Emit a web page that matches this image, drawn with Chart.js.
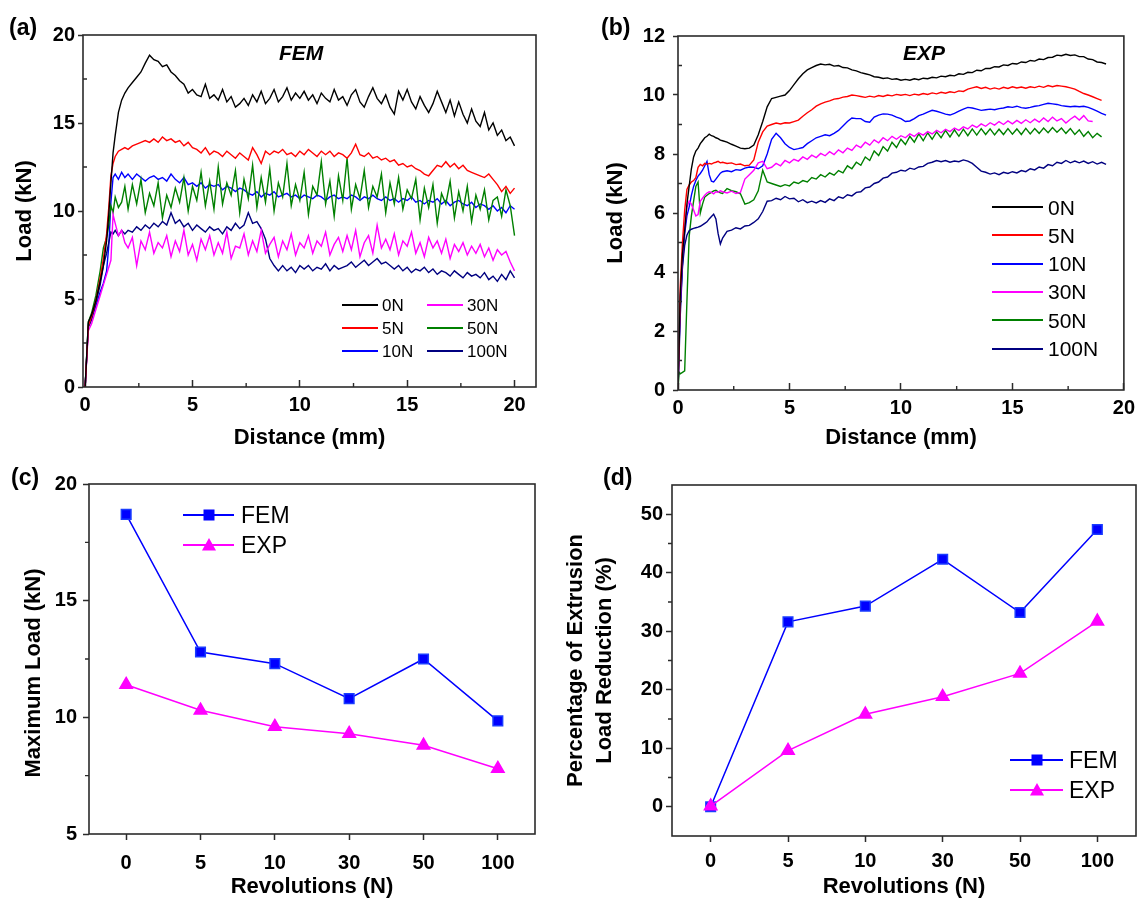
<!DOCTYPE html>
<html>
<head>
<meta charset="utf-8">
<script src="https://cdn.jsdelivr.net/npm/chart.js@4.4.1/dist/chart.umd.min.js"></script>
<style>
  body { margin: 0; background: #fff; width: 1148px; height: 900px; position: relative; overflow: hidden;
         font-family: 'Liberation Sans', Arial, Helvetica, sans-serif; }
  .box { position: absolute; }
  .txt { position: absolute; white-space: nowrap; color: #000; display: flex; align-items: center; }
</style>
</head>
<body>
<div class="box" style="left:0;top:440px"><canvas id="chartC" width="560" height="460"></canvas></div>
<div class="box" style="left:560px;top:440px"><canvas id="chartD" width="588" height="460"></canvas></div>
<div class="box" style="left:0;top:0"><canvas id="chartA" width="560" height="460"></canvas></div>
<div class="box" style="left:580px;top:0"><canvas id="chartB" width="568" height="460"></canvas></div>
<div id="overlay"></div>
<script>
// ---- DATA ----
// (a) FEM load vs distance, shared distance grid (mm)
const femDist = [0, 0.15, 0.3, 0.5, 0.7, 0.85, 1.0, 1.1, 1.2, 1.3, 1.4, 1.55, 1.7, 1.85, 2.0,
  2.2, 2.4, 2.6, 2.8, 3.0, 3.2, 3.4, 3.6, 3.8, 4.0,
  4.2, 4.4, 4.6, 4.8, 5.0, 5.2, 5.4, 5.6, 5.8, 6.0,
  6.2, 6.4, 6.6, 6.8, 7.0, 7.2, 7.4, 7.6, 7.8, 8.0,
  8.2, 8.4, 8.6, 8.8, 9.0, 9.2, 9.4, 9.6, 9.8, 10.0,
  10.2, 10.4, 10.6, 10.8, 11.0, 11.2, 11.4, 11.6, 11.8, 12.0,
  12.2, 12.4, 12.6, 12.8, 13.0, 13.2, 13.4, 13.6, 13.8, 14.0,
  14.2, 14.4, 14.6, 14.8, 15.0, 15.2, 15.4, 15.6, 15.8, 16.0,
  16.2, 16.4, 16.6, 16.8, 17.0, 17.2, 17.4, 17.6, 17.8, 18.0,
  18.2, 18.4, 18.6, 18.8, 19.0, 19.2, 19.4, 19.6, 19.8, 20.0];
const femLoad0N = [0, 3.7, 4.1, 4.9, 6.0, 6.9, 8.3, 9.8, 11.6, 13.3, 14.3, 15.6, 16.3, 16.7, 17.0,
  17.3, 17.6, 17.9, 18.4, 18.85, 18.6, 18.5, 18.2, 18.3, 17.9,
  17.7, 17.4, 17.2, 16.7, 16.9, 16.6, 16.5, 17.2, 16.4, 16.6,
  16.3, 16.9, 16.2, 16.5, 15.9, 16.1, 16.4, 16.0, 16.6, 16.2,
  16.8, 16.1, 16.4, 16.9, 16.2, 16.5, 17.0, 16.3, 16.7, 16.4,
  16.8, 16.3, 16.6, 16.1, 16.7, 16.4, 16.2, 16.9, 16.3, 16.5,
  16.0, 16.6, 16.9, 16.2, 15.9, 16.5, 17.0, 16.4, 16.1, 16.6,
  15.9, 15.5, 16.8, 16.3, 16.9, 16.2, 15.8, 16.5, 16.0, 15.6,
  16.1, 16.8, 16.2, 15.6, 16.3, 15.4, 16.2, 15.5, 15.0, 15.8,
  15.1, 14.8, 15.6, 14.6, 15.0, 14.3, 14.6, 14.0, 14.2, 13.7];
const femLoad5N = [0, 3.5, 4.0, 4.9, 6.2, 7.3, 8.7, 10.2, 12.0, 12.7, 13.1, 13.4, 13.5, 13.6, 13.5,
  13.7, 13.8, 13.9, 14.0, 13.9, 14.1, 13.9, 14.2, 14.0, 14.1,
  13.9, 14.0, 13.7, 13.9, 13.6, 13.5, 13.3, 13.6, 13.2, 13.4,
  13.3, 13.1, 13.4, 13.2, 13.0, 13.3, 13.1, 12.9, 13.6, 13.2,
  12.7, 13.4, 13.2, 13.4, 13.3, 13.5, 13.2, 13.3, 13.1, 13.4,
  13.2, 13.5, 13.3, 13.1, 13.4, 13.2, 13.4, 13.1, 13.3, 13.2,
  13.0, 13.3, 13.8, 13.2, 13.1, 13.3, 13.0, 13.1, 12.9, 13.0,
  12.8, 12.9, 12.6, 12.7, 12.5, 12.6, 12.4, 12.3, 12.1, 12.0,
  12.3, 12.6, 12.5, 12.8, 12.5, 12.7, 12.4, 12.6, 12.3, 12.2,
  12.1, 12.0, 11.9, 12.1, 11.8, 11.5, 11.1, 11.4, 11.0, 11.3];
const femLoad10N = [0, 3.6, 3.9, 4.6, 5.4, 5.9, 6.6, 8.0, 10.5, 11.9, 12.1, 11.8, 12.2, 11.9, 12.1,
  11.8, 12.1, 11.9, 11.7, 11.9, 12.0, 11.8, 11.9, 11.7, 12.1,
  11.8, 11.6, 11.9, 11.5, 11.6, 11.4, 11.6, 11.3, 11.5, 11.4,
  11.5, 11.2, 11.4, 11.3, 11.1, 11.3, 11.2, 11.0, 10.9, 11.1,
  10.8, 11.0, 10.9, 11.1, 10.8, 10.9, 11.0, 10.8, 10.9, 10.7,
  10.9, 10.8, 10.7, 10.9, 10.8, 10.6, 10.8, 10.9, 10.7, 10.8,
  10.7, 10.9, 10.8, 10.6, 10.8, 10.7, 10.9, 10.7, 10.6, 10.8,
  10.6, 10.7, 10.5, 10.7, 10.6, 10.8, 10.5, 10.6, 10.4, 10.6,
  10.5, 10.7, 10.4, 10.6, 10.3, 10.5, 10.6, 10.4, 10.3, 10.5,
  10.2, 10.4, 10.3, 10.1, 10.3, 10.0, 10.2, 9.9, 10.3, 10.1];
const femLoad30N = [0, 3.2, 3.6, 4.4, 5.2, 5.8, 6.4, 6.8, 7.2, 9.8, 9.3, 8.6, 8.9, 8.2, 7.9,
  8.5, 6.9, 8.3, 7.8, 8.8, 7.6, 8.2, 7.9, 8.6, 7.4,
  8.3, 7.7, 8.9, 7.5, 8.1, 7.2, 8.4, 7.8, 8.6, 7.5,
  8.2, 7.6, 8.8, 7.3, 8.0, 7.9, 8.7, 7.5, 8.3, 7.7,
  8.9, 7.6, 8.1, 8.5, 7.4, 8.3, 7.8, 8.7, 7.5, 8.2,
  7.9, 8.6, 7.6, 8.3, 8.0, 8.8, 7.5, 8.1, 8.5, 7.7,
  8.6, 7.8, 8.9, 7.4, 8.2, 8.6, 7.6, 9.2, 7.9, 8.4,
  7.8, 8.7, 7.5, 8.3, 8.0, 8.8, 7.6, 8.2, 7.4, 8.5,
  7.9, 8.3, 7.6, 8.4, 7.3, 8.1, 7.7, 8.2, 7.5, 8.0,
  7.6, 8.1, 7.4, 7.9, 7.2, 7.8, 7.5, 7.7, 7.1, 6.6];
const femLoad50N = [0, 3.7, 4.2, 5.2, 6.6, 7.9, 8.5, 9.2, 10.3, 9.9, 10.8, 10.2, 10.5, 11.4, 10.1,
  11.5, 10.4, 11.8, 9.9, 11.0, 10.3, 11.6, 9.6, 10.9, 10.2,
  11.3, 10.5, 11.9, 10.0, 11.4, 10.6, 12.2, 10.3, 11.7, 10.1,
  12.5, 10.4, 11.6, 10.9, 12.3, 9.9, 11.8, 10.7, 12.6, 10.2,
  11.9, 10.5, 12.4, 10.0, 11.6, 10.8, 12.7, 10.3, 11.5, 10.6,
  12.2, 9.8, 11.4, 10.9, 12.8, 10.4, 11.7, 9.7, 12.0, 10.6,
  13.0, 10.1, 11.5, 10.7, 12.3, 10.2, 11.4, 10.8, 12.1, 9.9,
  11.6, 10.4, 11.9, 10.1, 11.2, 10.7, 11.8, 9.5, 11.3, 10.2,
  11.5, 9.3, 11.0, 10.4, 11.7, 9.6, 11.1, 10.0, 11.4, 9.4,
  10.9, 10.1, 11.2, 9.5, 10.6, 10.8, 9.7, 11.2, 10.3, 8.6];
const femLoad100N = [0, 3.4, 3.8, 4.8, 5.8, 6.9, 7.6, 8.2, 8.8, 8.7, 8.9, 8.6, 8.9, 8.7, 8.9,
  8.8, 9.1, 8.9, 9.2, 9.0, 9.3, 9.1, 9.4, 9.2, 9.9,
  9.3, 9.5, 9.1, 9.3, 8.9, 9.2, 9.0, 8.8, 9.1, 8.9,
  9.0, 8.7, 9.1, 8.9, 9.3, 9.0, 9.2, 9.9, 9.3, 9.4,
  9.0, 8.4, 7.3, 6.9, 6.6, 6.9, 6.6, 6.8, 6.5, 6.9,
  6.7, 6.9, 6.6, 6.8, 6.7, 7.0, 6.6, 6.9, 6.7, 6.8,
  6.9, 7.1, 6.8, 7.0, 7.2, 6.9, 7.1, 7.3, 7.0, 7.1,
  6.9, 6.7, 6.9, 6.6, 6.8, 6.5, 6.7, 6.6, 6.8, 6.5,
  6.7, 6.4, 6.6, 6.5, 6.3, 6.6, 6.4, 6.2, 6.5, 6.3,
  6.4, 6.2, 6.5, 6.1, 6.3, 6.0, 6.4, 6.1, 6.6, 6.2];

// (b) EXP load vs distance, shared distance grid (mm)
const expDist = [0, 0.05, 0.1, 0.2, 0.3, 0.4, 0.5, 0.6, 0.7, 0.8, 0.9, 1.0, 1.1, 1.2, 1.3, 1.4, 1.5, 1.6, 1.7, 1.8, 1.9, 2.0,
  2.2, 2.4, 2.6, 2.8, 3.0, 3.2, 3.4, 3.6, 3.8, 4.0,
  4.2, 4.4, 4.6, 4.8, 5.0, 5.2, 5.4, 5.6, 5.8, 6.0,
  6.2, 6.4, 6.6, 6.8, 7.0, 7.2, 7.4, 7.6, 7.8, 8.0,
  8.2, 8.4, 8.6, 8.8, 9.0, 9.2, 9.4, 9.6, 9.8, 10.0,
  10.2, 10.4, 10.6, 10.8, 11.0, 11.2, 11.4, 11.6, 11.8, 12.0,
  12.2, 12.4, 12.6, 12.8, 13.0, 13.2, 13.4, 13.6, 13.8, 14.0,
  14.2, 14.4, 14.6, 14.8, 15.0, 15.2, 15.4, 15.6, 15.8, 16.0,
  16.2, 16.4, 16.6, 16.8, 17.0, 17.2, 17.4, 17.6, 17.8, 18.0,
  18.2, 18.4, 18.6, 18.8, 19.0, 19.2];
const expLoad0N = [0, 1.5, 3.2, 4.6, 5.4, 6.3, 6.9, 7.5, 7.9, 8.1, 8.2, 8.35, 8.45, 8.55, 8.6, 8.67, 8.62, 8.6, 8.55, 8.52, 8.47, 8.45,
  8.4, 8.33, 8.27, 8.2, 8.18, 8.2, 8.3, 8.65, 9.1, 9.6,
  9.88, 9.92, 9.96, 10.0, 10.15, 10.35, 10.55, 10.72, 10.85, 10.93,
  11.0, 11.05, 11.02, 11.04, 10.98, 11.0, 10.93, 10.92, 10.85, 10.82,
  10.76, 10.72, 10.68, 10.62, 10.6, 10.56, 10.58, 10.53, 10.55, 10.5,
  10.53, 10.5, 10.55, 10.52, 10.57, 10.55, 10.6, 10.58, 10.64, 10.62,
  10.67, 10.65, 10.72, 10.7, 10.77, 10.76, 10.84, 10.82, 10.9, 10.9,
  10.96, 10.95, 11.02, 11.0, 11.07, 11.05, 11.12, 11.1, 11.17, 11.15,
  11.22, 11.2, 11.27, 11.28, 11.35, 11.33, 11.38, 11.34, 11.36, 11.3,
  11.3, 11.22, 11.2, 11.12, 11.1, 11.05];
const expLoad5N = [0, 1.8, 3.5, 5.0, 6.1, 6.8, 6.95, 7.05, 7.1, 7.2, 7.55, 7.65, 7.6, 7.68, 7.65, 7.68, 7.66, 7.7, 7.72, 7.75, 7.7, 7.72,
  7.68, 7.7, 7.64, 7.66, 7.6, 7.62, 7.8, 8.4, 8.75, 8.95,
  9.0, 9.05, 9.02, 9.06, 9.05, 9.1, 9.15, 9.28, 9.4, 9.5,
  9.62, 9.7, 9.76, 9.8, 9.86, 9.88, 9.93, 9.95, 10.0, 9.98,
  9.95, 9.92, 9.96, 9.93, 9.98, 9.95, 10.0, 9.97, 10.02, 9.99,
  10.02, 9.98, 10.03, 10.0, 10.05, 10.02, 10.07, 10.04, 10.09, 10.06,
  10.11, 10.08, 10.14, 10.12, 10.2, 10.24, 10.28, 10.22, 10.26, 10.2,
  10.24, 10.2, 10.26, 10.22, 10.28, 10.24, 10.27, 10.23, 10.28, 10.25,
  10.3, 10.26, 10.32, 10.28, 10.32, 10.3, 10.28, 10.24, 10.2, 10.12,
  10.05, 10.0, 9.94, 9.88, 9.82, null];
const expLoad10N = [0, 1.5, 2.8, 4.2, 5.3, 5.9, 6.2, 6.6, 6.9, 7.1, 7.25, 7.34, 7.45, 7.6, 7.75, 7.3, 7.08, 7.05, 7.15, 7.25, 7.35, 7.4,
  7.43, 7.4, 7.47, 7.45, 7.52, 7.56, 7.55, 7.5, 7.6, 8.0,
  8.5, 8.7, 8.55, 8.35, 8.22, 8.15, 8.18, 8.22, 8.35, 8.45,
  8.55, 8.6, 8.65, 8.62, 8.7, 8.8, 8.95, 9.1, 9.22, 9.2,
  9.2, 9.1, 9.08, 9.25, 9.32, 9.36, 9.35, 9.32, 9.25, 9.2,
  9.1, 9.12, 9.2, 9.3, 9.35, 9.42, 9.48, 9.45, 9.4, 9.35,
  9.32, 9.38, 9.45, 9.52, 9.58, 9.56, 9.52, 9.48, 9.5, 9.52,
  9.5, 9.54, 9.56, 9.6, 9.58, 9.62, 9.57, 9.55, 9.58, 9.62,
  9.64, 9.68, 9.72, 9.7, 9.68, 9.64, 9.62, 9.6, 9.62, 9.6,
  9.62, 9.58, 9.52, 9.45, 9.38, 9.32];
const expLoad30N = [0, 1.6, 3.0, 4.6, 5.5, 6.2, 6.4, 6.3, 6.1, 5.9, 5.95, 6.4, 6.5, 6.6, 6.68, 6.72, 6.7, 6.65, 6.72, 6.7, 6.75, 6.72,
  6.68, 6.74, 6.66, 6.7, 7.15, 7.3, 7.45, 7.7, 7.75, 7.5,
  7.55, 7.68, 7.6, 7.78, 7.7, 7.82, 7.76, 7.9, 7.82, 7.96,
  7.88, 8.02, 7.94, 8.08, 7.98, 8.14, 8.04, 8.2, 8.12, 8.3,
  8.22, 8.4, 8.3, 8.48, 8.38, 8.55, 8.45, 8.6, 8.5, 8.62,
  8.55, 8.68, 8.6, 8.72, 8.64, 8.76, 8.68, 8.8, 8.72, 8.84,
  8.76, 8.88, 8.8, 8.92, 8.85, 8.98, 8.9, 9.02, 8.94, 9.06,
  8.98, 9.1, 9.0, 9.12, 9.02, 9.14, 9.04, 9.16, 9.06, 9.18,
  9.08, 9.22, 9.1, 9.25, 9.12, 9.2, 9.05, 9.18, 9.28, 9.15,
  9.3, 9.12, 9.1, null, null, null];
const expLoad50N = [0, 0.6, 0.55, 0.6, 0.65, 3.0, 5.2, 5.9, 6.4, 6.9, 7.05, 6.0, 6.3, 6.54, 6.6, 6.66, 6.7, 6.75, 6.77, 6.72, 6.68, 6.66,
  6.83, 6.76, 6.72, 6.65, 6.3, 6.35, 6.45, 6.75, 7.45, 7.05,
  7.0, 6.95, 6.9, 6.96, 6.92, 7.05, 7.0, 7.1, 7.05, 7.2,
  7.15, 7.3, 7.22, 7.36, 7.28, 7.44, 7.36, 7.6, 7.5, 7.72,
  7.62, 7.9, 7.78, 8.1, 7.95, 8.25, 8.1, 8.4, 8.22, 8.5,
  8.32, 8.6, 8.4, 8.68, 8.45, 8.72, 8.5, 8.75, 8.55, 8.8,
  8.58, 8.82, 8.6, 8.84, 8.62, 8.85, 8.64, 8.86, 8.66, 8.85,
  8.65, 8.84, 8.66, 8.86, 8.67, 8.85, 8.66, 8.87, 8.68, 8.86,
  8.7, 8.88, 8.72, 8.9, 8.74, 8.88, 8.7, 8.86, 8.66, 8.82,
  8.6, 8.76, 8.55, 8.7, 8.58, null];
const expLoad100N = [0, 1.2, 2.5, 4.2, 4.9, 5.25, 5.4, 5.45, 5.48, 5.5, 5.52, 5.55, 5.6, 5.65, 5.7, 5.8, 5.88, 5.96, 5.8, 5.3, 4.95, 5.15,
  5.38, 5.42, 5.5, 5.46, 5.56, 5.58, 5.68, 5.8, 6.05, 6.4,
  6.42, 6.5, 6.45, 6.56, 6.48, 6.5, 6.38, 6.45, 6.35, 6.4,
  6.34, 6.42, 6.36, 6.48, 6.42, 6.55, 6.5, 6.62, 6.58, 6.7,
  6.72, 6.85, 6.88, 7.0, 7.05, 7.18, 7.22, 7.35, 7.38, 7.45,
  7.42, 7.52, 7.48, 7.56, 7.58, 7.68, 7.72, 7.78, 7.74, 7.78,
  7.72, 7.76, 7.74, 7.8, 7.76, 7.68, 7.55, 7.42, 7.38, 7.32,
  7.36, 7.3, 7.38, 7.34, 7.4, 7.36, 7.44, 7.4, 7.5, 7.46,
  7.56, 7.52, 7.64, 7.6, 7.72, 7.68, 7.78, 7.7, 7.76, 7.7,
  7.76, 7.68, 7.74, 7.66, 7.72, 7.65];
const forceLabels = ['0N', '5N', '10N', '30N', '50N', '100N'];

// (c) and (d) summary values
const revLabels = ['0', '5', '10', '30', '50', '100'];
const maxLoadFEM = [18.7, 12.8, 12.3, 10.8, 12.5, 9.85];
const maxLoadEXP = [11.4, 10.3, 9.6, 9.3, 8.8, 7.8];
const reductionFEM = [0, 31.6, 34.3, 42.3, 33.2, 47.4];
const reductionEXP = [0.1, 9.6, 15.8, 18.8, 22.8, 31.7];

// tick values
const distTicks = [0, 5, 10, 15, 20];
const distMinor = [2.5, 7.5, 12.5, 17.5];
const femLoadTicks = [0, 5, 10, 15, 20];
const femLoadMinor = [2.5, 7.5, 12.5, 17.5];
const expLoadTicks = [0, 2, 4, 6, 8, 10, 12];
const expLoadMinor = [1, 3, 5, 7, 9, 11];
const maxLoadTicks = [5, 10, 15, 20];
const maxLoadMinor = [7.5, 12.5, 17.5];
const reductionTicks = [0, 10, 20, 30, 40, 50];
const reductionMinor = [5, 15, 25, 35, 45];

// ---- STYLE ----
const FONT = "'Liberation Sans', Arial, Helvetica, sans-serif";
const AXIS = '#2b2b2b';
const lineColors = ['#000000', '#ff0000', '#0000ff', '#ff00ff', '#008000', '#000080'];
const drawOrder = [1, 2, 6, 3, 5, 4];
const tickFont = { family: FONT, size: 20, weight: 'bold' };
const titleFont = { family: FONT, size: 22, weight: 'bold' };

// box frame + minor ticks
const framePlugin = {
  id: 'frame',
  afterDraw(chart, args, opts) {
    const { ctx, chartArea: a, scales } = chart;
    ctx.save();
    ctx.strokeStyle = AXIS;
    ctx.lineWidth = 1.6;
    ctx.strokeRect(a.left, a.top, a.right - a.left, a.bottom - a.top);
    ctx.lineWidth = 1.4;
    ctx.beginPath();
    (opts.minorX || []).forEach(v => {
      const px = scales.x.getPixelForValue(v);
      ctx.moveTo(px, a.bottom);
      ctx.lineTo(px, a.bottom + (opts.inX ? -4 : 4));
    });
    (opts.minorY || []).forEach(v => {
      const py = scales.y.getPixelForValue(v);
      ctx.moveTo(a.left, py);
      ctx.lineTo(a.left + (opts.inY ? 4 : -4), py);
    });
    ctx.stroke();
    ctx.restore();
  }
};

const numAxis = o => ({
  type: 'linear',
  min: o.min,
  max: o.max,
  afterBuildTicks: s => { s.ticks = o.ticks.map(v => ({ value: v })); },
  afterFit: s => { if (o.width) s.width = o.width; if (o.height) s.height = o.height; },
  grid: { display: true, drawOnChartArea: false, drawTicks: true, tickLength: o.tickLength, tickColor: AXIS, tickWidth: 1.5 },
  border: { display: false },
  ticks: { font: tickFont, color: '#000', padding: o.pad, maxRotation: 0, autoSkip: false },
  title: { display: o.title !== null, text: o.title || '', font: o.titleFont || titleFont, color: '#000', padding: o.titlePad }
});

const catAxis = o => ({
  type: 'category',
  labels: revLabels,
  offset: true,
  afterFit: s => { s.height = o.height; },
  grid: { display: true, offset: false, drawOnChartArea: false, drawTicks: true, tickLength: 6, tickColor: AXIS, tickWidth: 1.5 },
  border: { display: false },
  ticks: { font: tickFont, color: '#000', padding: o.pad, maxRotation: 0 },
  title: { display: true, text: 'Revolutions (N)', font: titleFont, color: '#000', padding: o.titlePad }
});

const toPoints = (xs, ys) => xs.map((x, i) => ({ x: x, y: ys[i] }));

const curveSets = (xs, series) => series.map((ys, i) => ({
  label: forceLabels[i],
  data: toPoints(xs, ys),
  borderColor: lineColors[i],
  borderWidth: 1.4,
  pointRadius: 0,
  tension: 0,
  spanGaps: false,
  order: drawOrder[i]
}));

const baseOptions = (padTop, padRight, scales, frame) => ({
  responsive: false,
  animation: false,
  devicePixelRatio: 1,
  layout: { padding: { top: padTop, right: padRight, left: 0, bottom: 0 } },
  plugins: { legend: { display: false }, tooltip: { enabled: false }, frame: frame },
  scales: scales
});

// (a) FEM
new Chart(document.getElementById('chartA'), {
  type: 'line',
  data: { datasets: curveSets(femDist, [femLoad0N, femLoad5N, femLoad10N, femLoad30N, femLoad50N, femLoad100N]) },
  options: baseOptions(35, 24, {
    x: numAxis({ min: -0.1, max: 21, ticks: distTicks, height: 73, tickLength: -7, pad: 13, title: 'Distance (mm)', titlePad: { bottom: 9 } }),
    y: numAxis({ min: 0, max: 20, ticks: femLoadTicks, width: 83, tickLength: 5, pad: 3, title: 'Load (kN)', titlePad: { top: 12 } })
  }, { minorX: distMinor, minorY: femLoadMinor, inX: true, inY: true }),
  plugins: [framePlugin]
});

// (b) EXP
new Chart(document.getElementById('chartB'), {
  type: 'line',
  data: { datasets: curveSets(expDist, [expLoad0N, expLoad5N, expLoad10N, expLoad30N, expLoad50N, expLoad100N]) },
  options: baseOptions(36, 14, {
    x: numAxis({ min: 0, max: 20, ticks: distTicks, height: 70, tickLength: -7, pad: 13, title: 'Distance (mm)', titlePad: { bottom: 9 } }),
    y: numAxis({ min: 0, max: 12, ticks: expLoadTicks, width: 98, tickLength: 5, pad: 8, title: 'Load (kN)', titlePad: { top: 23 } })
  }, { minorX: distMinor, minorY: expLoadMinor, inX: true, inY: true }),
  plugins: [framePlugin]
});

const markerSets = (fem, exp) => [
  { label: 'FEM', data: fem, borderColor: '#0000ff', backgroundColor: '#0000ff', pointBackgroundColor: '#0000ff',
    pointBorderColor: '#1a3cff', pointStyle: 'rect', pointRadius: 6.8, borderWidth: 1.5, tension: 0, order: 2 },
  { label: 'EXP', data: exp, borderColor: '#ff00ff', backgroundColor: '#ff00ff', pointBackgroundColor: '#ff00ff',
    pointBorderColor: '#ff00ff', pointStyle: 'triangle', pointRadius: 7.2, borderWidth: 1.5, tension: 0, order: 1 }
];

// (c) maximum load (y title placed below as text, it sits a little under centre)
new Chart(document.getElementById('chartC'), {
  type: 'line',
  data: { labels: revLabels, datasets: markerSets(maxLoadFEM, maxLoadEXP) },
  options: baseOptions(44, 25, {
    x: catAxis({ height: 66, pad: 11, titlePad: { bottom: 0 } }),
    y: numAxis({ min: 5, max: 20, ticks: maxLoadTicks, width: 89, tickLength: 6, pad: 6, title: null, titlePad: 0 })
  }, { minorY: maxLoadMinor, inY: false }),
  plugins: [framePlugin]
});

// (d) percentage of load reduction
new Chart(document.getElementById('chartD'), {
  type: 'line',
  data: { labels: revLabels, datasets: markerSets(reductionFEM, reductionEXP) },
  options: baseOptions(45, 12, {
    x: catAxis({ height: 64, pad: 7, titlePad: { bottom: 0 } }),
    y: numAxis({ min: -5, max: 55, ticks: reductionTicks, width: 112, tickLength: 6, pad: 3,
      title: ['Percentage of Extrusion', 'Load Reduction (%)'],
      titleFont: { family: FONT, size: 22, weight: 'bold', lineHeight: 1.3 }, titlePad: { top: 2 } })
  }, { minorY: reductionMinor, inY: false }),
  plugins: [framePlugin]
});

// ---- HTML text: panel letters, inner titles, legends ----
const overlay = document.getElementById('overlay');
function addText(text, x, cy, size, css) {
  const d = document.createElement('div');
  d.className = 'txt';
  d.textContent = text;
  d.style.cssText += `left:${x}px;top:${cy - size / 2}px;height:${size}px;line-height:${size}px;font-size:${size}px;${css || ''}`;
  overlay.appendChild(d);
  return d;
}
function addLine(x1, x2, cy, color, w) {
  const d = document.createElement('div');
  d.style.cssText = `position:absolute;left:${x1}px;top:${cy - w / 2}px;width:${x2 - x1}px;height:${w}px;background:${color}`;
  overlay.appendChild(d);
}
function addMarker(kind, cx, cy, color) {
  const s = 16;
  const ns = 'http://www.w3.org/2000/svg';
  const svg = document.createElementNS(ns, 'svg');
  svg.setAttribute('width', s); svg.setAttribute('height', s);
  svg.style.cssText = `position:absolute;left:${cx - s / 2}px;top:${cy - s / 2}px`;
  const p = document.createElementNS(ns, kind === 'rect' ? 'rect' : 'polygon');
  if (kind === 'rect') { p.setAttribute('x', 2.5); p.setAttribute('y', 2.5); p.setAttribute('width', 11); p.setAttribute('height', 11); }
  else p.setAttribute('points', '8,1 15,13.5 1,13.5');
  p.setAttribute('fill', color);
  svg.appendChild(p);
  overlay.appendChild(svg);
}

const bold = 'font-weight:bold;';
addText('(a)', 9, 27, 23, bold);
addText('(b)', 601, 27, 23, bold);
addText('(c)', 11, 477, 23, bold);
addText('(d)', 603, 477, 23, bold);
addText('FEM', 279, 52, 21, bold + 'font-style:italic;');
addText('EXP', 903, 52, 21, bold + 'font-style:italic;');

// (c) y-axis title, rotated
const yTitleC = addText('Maximum Load (kN)', 0, 0, 22, bold);
yTitleC.style.left = '33px';
yTitleC.style.top = '673px';
yTitleC.style.transform = 'translate(-50%, -50%) rotate(-90deg)';

// (a) legend, two columns
forceLabels.forEach((lab, i) => {
  const col = Math.floor(i / 3), row = i % 3;
  const y = 305 + row * 23;
  const x0 = col ? 427 : 342;
  addLine(x0, x0 + 36, y, lineColors[i], 2);
  addText(lab, x0 + 40, y, 17);
});
// (b) legend, one column
forceLabels.forEach((lab, i) => {
  const y = 207 + i * 28.3;
  addLine(992, 1043, y, lineColors[i], 2);
  addText(lab, 1048, y, 21);
});
// (c) and (d) legends
[['FEM', '#0000ff', 'rect'], ['EXP', '#ff00ff', 'tri']].forEach((e, i) => {
  const yc = 515 + i * 30, yd = 760 + i * 30;
  addLine(183, 234, yc, e[1], 2); addMarker(e[2], 208.5, yc, e[1]); addText(e[0], 241, yc, 23);
  addLine(1010, 1063, yd, e[1], 2); addMarker(e[2], 1036.5, yd, e[1]); addText(e[0], 1069, yd, 23);
});
</script>
</body>
</html>
